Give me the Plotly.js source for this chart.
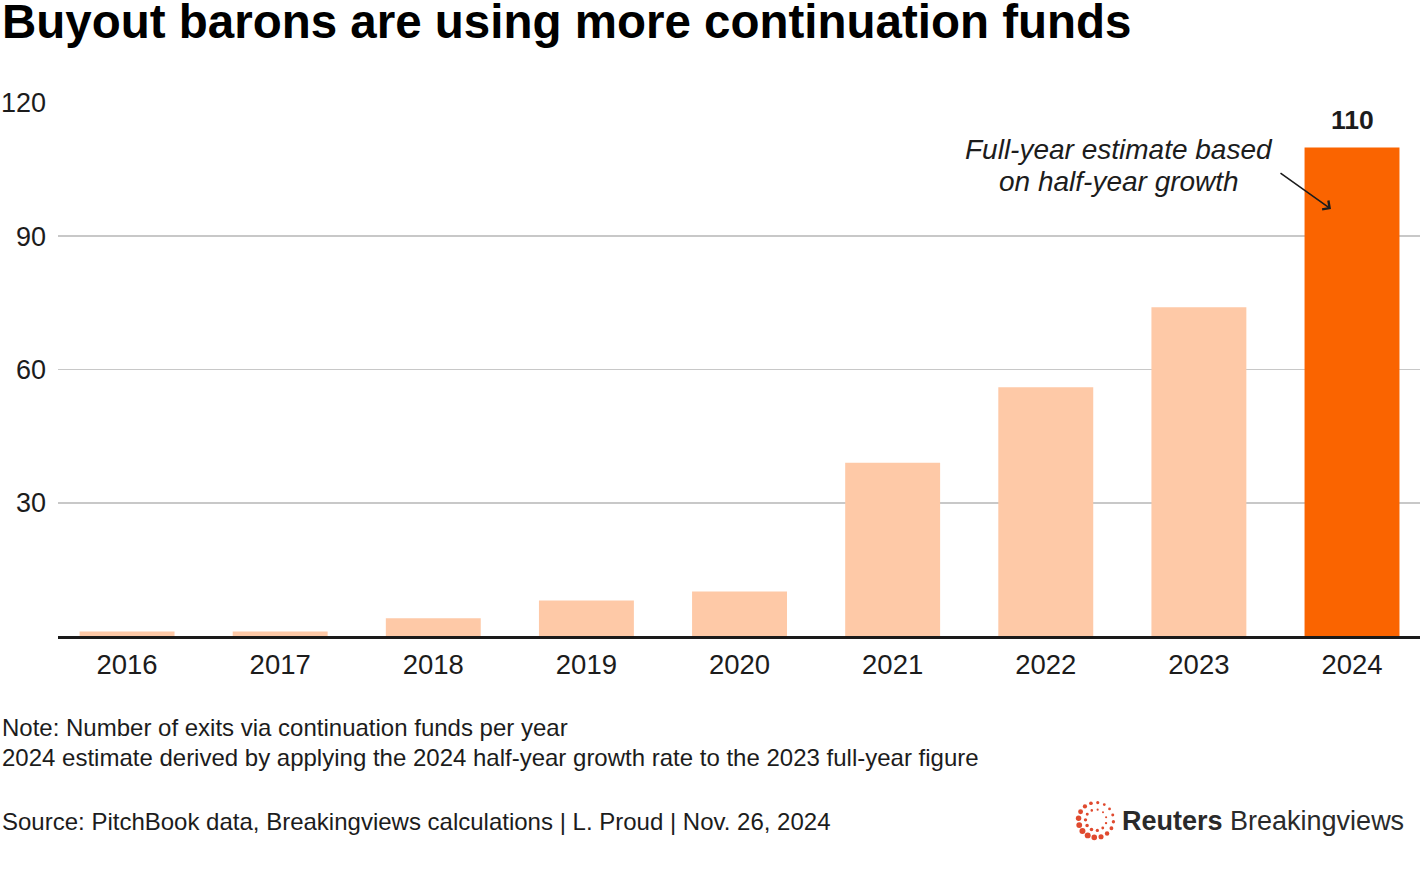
<!DOCTYPE html>
<html>
<head>
<meta charset="utf-8">
<script src="https://cdn.plot.ly/plotly-3.0.1.min.js"></script>
<style>
html,body{margin:0;padding:0;background:#fff;}
#chart{width:1420px;height:870px;}
</style>
</head>
<body>
<div id="chart"></div>
<script>
// ---- data ----
const years = ['2016','2017','2018','2019','2020','2021','2022','2023','2024'];
const exits = [1, 1, 4, 8, 10, 39, 56, 74, 110];
const yTicks = [30, 60, 90, 120];
const highlightYear = '2024';

const lightColor = '#FEC9A7';
const hiColor = '#FA6400';
const textColor = '#1c1c1c';
const FONT = '"Liberation Sans", Arial, Helvetica, sans-serif';

// plot area in pixels
const L = 58, R = 1420, T = 103, B = 636, W = 1420, H = 870;
const px = x => (x - L) / (R - L);
const py = y => (B - y) / (B - T);

const colors = years.map(y => y === highlightYear ? hiColor : lightColor);
const hiIndex = years.indexOf(highlightYear);

const trace = {
  type: 'bar',
  x: years,
  y: exits,
  marker: {color: colors},
  cliponaxis: false,
  hoverinfo: 'x+y'
};

const noteFont = {family: FONT, size: 24, color: textColor};
const annotations = [
  {xref:'paper', yref:'paper', x:px(0), y:py(21), xanchor:'left', yanchor:'middle', showarrow:false,
   text:'<b>Buyout barons are using more continuation funds</b>', font:{family:FONT, size:47.5, color:'#000'}},
  {xref:'x', yref:'y', x:hiIndex, y:exits[hiIndex], xanchor:'center', yanchor:'bottom', yshift:10, showarrow:false,
   text:'<b>' + exits[hiIndex] + '</b>', font:{family:FONT, size:26.5, color:textColor}},
  {xref:'paper', yref:'paper', x:px(0), y:py(727), xanchor:'left', yanchor:'middle', showarrow:false,
   text:'Note: Number of exits via continuation funds per year', font:noteFont},
  {xref:'paper', yref:'paper', x:px(0), y:py(757), xanchor:'left', yanchor:'middle', showarrow:false,
   text:'2024 estimate derived by applying the 2024 half-year growth rate to the 2023 full-year figure', font:noteFont},
  {xref:'paper', yref:'paper', x:px(0), y:py(821), xanchor:'left', yanchor:'middle', showarrow:false,
   text:'Source: PitchBook data, Breakingviews calculations | L. Proud | Nov. 26, 2024', font:noteFont},
  {xref:'paper', yref:'paper', x:px(1119), y:py(149), xanchor:'center', yanchor:'middle', showarrow:false,
   text:'<i>Full-year estimate based</i>', font:{family:FONT, size:28, color:textColor}},
  {xref:'paper', yref:'paper', x:px(1119), y:py(181), xanchor:'center', yanchor:'middle', showarrow:false,
   text:'<i>on half-year growth</i>', font:{family:FONT, size:28, color:textColor}},
  {xref:'paper', yref:'paper', x:px(1331), y:py(209), ax:-52, ay:-37, axref:'pixel', ayref:'pixel',
   showarrow:true, arrowhead:4, arrowsize:1.3, arrowwidth:1.6, arrowcolor:textColor, text:''},
  {xref:'paper', yref:'paper', x:px(1406), y:py(821), xanchor:'right', yanchor:'middle', showarrow:false,
   text:'<b>Reuters</b> Breakingviews', font:{family:FONT, size:27, color:'#2a2a2a'}}
];

// logo dot ring
const shapes = [];
const cx = 1096, cy = 820;
function ring(n, r, s0, s1, rot){
  for (let i = 0; i < n; i++){
    const a = rot + 2*Math.PI*i/n;
    const f = (1 + Math.cos(a - 2.4)) / 2;
    const s = s0 + (s1 - s0) * f;
    const x = cx + r*Math.cos(a), y = cy + r*Math.sin(a);
    shapes.push({type:'circle', xref:'paper', yref:'paper', x0:px(x-s), x1:px(x+s), y0:py(y+s), y1:py(y-s),
      fillcolor:'#E04A2F', line:{width:0}});
  }
}
ring(16, 17.5, 1.4, 3.0, 0.1);
ring(11, 10.5, 1.0, 1.8, 0.3);

const layout = {
  width: W, height: H,
  margin: {l: L, r: W - R, t: T, b: H - B, pad: 0},
  paper_bgcolor: '#fff', plot_bgcolor: '#fff',
  font: {family: FONT, color: textColor},
  bargap: 0.38,
  showlegend: false,
  xaxis: {type: 'category', range: [-0.451, 8.444], showline: true, linecolor: '#1a1a1a', linewidth: 3,
          ticks: '', tickfont: {family: FONT, size: 27.5, color: textColor}, ticklabelstandoff: 2,
          showgrid: false, zeroline: false, fixedrange: true},
  yaxis: {range: [0, 120], tickvals: yTicks, ticktext: yTicks.map(String), showgrid: true, gridcolor: '#c8c8c8', gridwidth: 1.8,
          zeroline: false, showline: false, ticks: '', tickfont: {family: FONT, size: 27, color: textColor},
          ticklabelstandoff: 11, fixedrange: true},
  annotations: annotations,
  shapes: shapes
};

Plotly.newPlot('chart', [trace], layout, {displayModeBar: false, staticPlot: true});
</script>
</body>
</html>
